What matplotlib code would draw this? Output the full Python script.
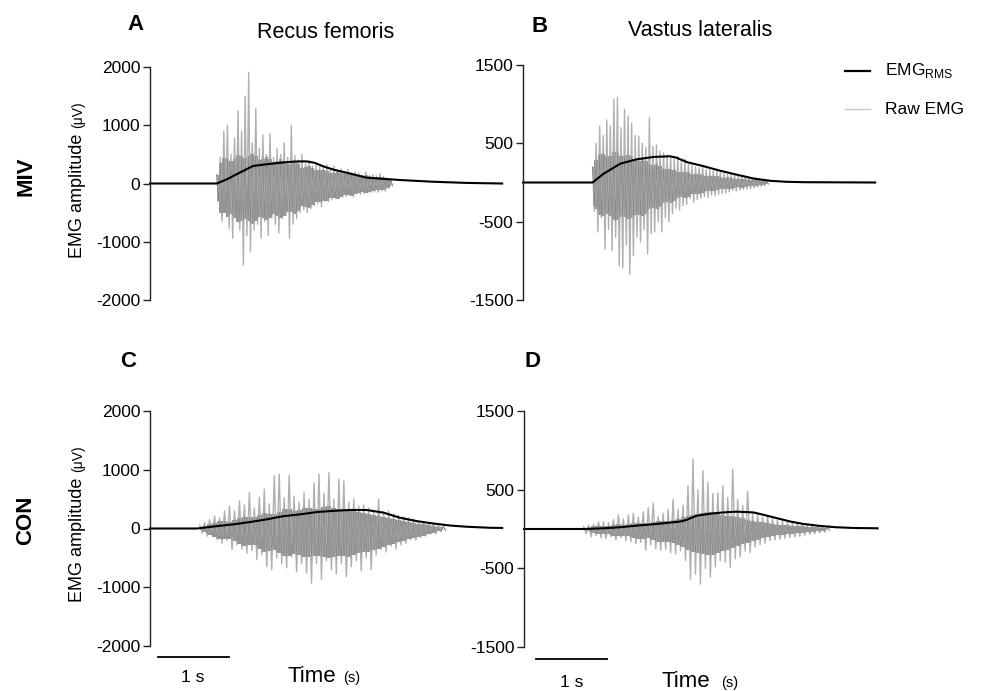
import numpy as np
import matplotlib
matplotlib.use("Agg")
import matplotlib.pyplot as plt
import matplotlib.transforms as mtransforms

plt.rcParams['font.family'] = ['Liberation Sans', 'DejaVu Sans']

# Raw EMG spike extremes (alternating +/-), in uV,
# one value every step seconds starting at the burst onset.
raw_a_start, raw_a_step = 0.94, 0.025
raw_a = [150, -300, 450, -650, 900, -500, 1000, -770,
         500, -940, 780, -600, 1250, -800, 900, -1400,
         1500, -900, 1910, -1170, 700, -800, 1290, -700,
         600, -940, 830, -650, 500, -890, 850, -600,
         450, -700, 600, -850, 500, -600, 700, -550,
         450, -940, 1000, -700, 480, -600, 400, -500,
         500, -450, 350, -500, 400, -430, 300, -380,
         350, -350, 300, -400, 280, -300, 320, -310,
         250, -280, 300, -250, 220, -260, 250, -230,
         200, -220, 240, -200, 180, -230, 200, -180,
         180, -190, 150, -170, 200, -160, 140, -150,
         150, -140, 130, -150, 170, -120, 120, -130,
         90, -80, 60, -40]

raw_b_start, raw_b_step = 0.98, 0.025
raw_b = [200, -370, 500, -630, 720, -450, 600, -850,
         800, -600, 720, -870, 1065, -700, 1090, -1065,
         700, -1090, 935, -800, 850, -1170, 760, -935,
         600, -700, 590, -760, 500, -600, 450, -910,
         830, -650, 460, -630, 480, -500, 400, -630,
         380, -450, 350, -500, 330, -400, 300, -330,
         330, -350, 280, -300, 300, -280, 250, -200,
         220, -250, 200, -220, 190, -200, 200, -180,
         170, -190, 160, -160, 150, -170, 140, -150,
         130, -140, 120, -130, 110, -120, 110, -100,
         100, -110, 90, -100, 90, -90, 80, -85,
         70, -80, 60, -70, 60, -55, 50, -50,
         40, -40, 30, -20]

raw_c_start, raw_c_step = 0.70, 0.035
raw_c = [60, -80, 100, -130, 150, -110, 210, -190,
         180, -250, 300, -200, 380, -360, 300, -280,
         470, -350, 400, -420, 610, -380, 350, -530,
         530, -450, 670, -650, 420, -700, 900, -500,
         925, -600, 520, -670, 900, -480, 550, -740,
         450, -600, 610, -760, 500, -930, 780, -600,
         925, -870, 600, -550, 950, -700, 500, -770,
         840, -600, 810, -820, 450, -650, 500, -550,
         380, -720, 400, -500, 350, -700, 300, -450,
         500, -360, 280, -400, 300, -300, 250, -350,
         220, -280, 200, -250, 180, -190, 160, -200,
         130, -150, 120, -130, 100, -90, 80, -90,
         60, -50, 40, -30]

raw_d_start, raw_d_step = 0.84, 0.035
raw_d = [30, -60, 50, -100, 60, -80, 90, -110,
         95, -120, 80, -100, 120, -140, 180, -110,
         130, -150, 180, -160, 200, -185, 150, -170,
         220, -270, 270, -200, 330, -250, 160, -270,
         200, -260, 250, -300, 375, -315, 250, -280,
         300, -400, 550, -640, 890, -575, 500, -700,
         740, -500, 590, -615, 450, -480, 460, -400,
         550, -420, 400, -490, 760, -380, 375, -350,
         300, -280, 480, -300, 200, -230, 180, -200,
         150, -180, 170, -150, 130, -140, 115, -130,
         100, -120, 90, -110, 80, -100, 73, -90,
         60, -80, 55, -70, 50, -60, 40, -50,
         35, -40, 25, -20]

# Dense (darker) core of the raw trace: time, upper and lower edge
core_a_t = [0.95, 1.05, 1.15, 1.25, 1.35, 1.45, 1.55, 1.65, 1.75, 1.85,
            1.95, 2.05, 2.15, 2.25, 2.35, 2.45, 2.55, 2.65, 2.75, 2.85,
            2.95, 3.05, 3.15, 3.25, 3.35, 3.45, 3.55, 3.65, 3.75]
core_a_hi = [300, 450, 380, 500, 430, 520, 400, 460, 350, 420,
             330, 380, 260, 300, 220, 240, 170, 200, 150, 170,
             120, 140, 100, 110, 70, 50, 30, 15, 0]
core_a_lo = [-450, -600, -520, -680, -600, -700, -560, -640, -520, -600,
             -480, -520, -380, -420, -300, -330, -240, -260, -190, -210,
             -150, -160, -120, -120, -80, -60, -35, -15, 0]

core_b_t = [1.0, 1.1, 1.2, 1.3, 1.4, 1.5, 1.6, 1.7, 1.8, 1.9,
            2.0, 2.1, 2.2, 2.3, 2.4, 2.5, 2.6, 2.7, 2.8, 2.9,
            3.0, 3.1, 3.2, 3.3, 3.4, 3.5, 3.6]
core_b_hi = [250, 380, 320, 400, 330, 360, 270, 300, 220, 240,
             160, 180, 130, 140, 100, 110, 75, 85, 60, 65,
             45, 50, 35, 30, 20, 10, 0]
core_b_lo = [-300, -440, -400, -500, -430, -480, -400, -430, -320, -340,
             -240, -260, -180, -200, -140, -150, -100, -110, -80, -85,
             -60, -65, -45, -40, -30, -15, 0]

core_c_t = [0.70, 0.85, 1.00, 1.15, 1.30, 1.45, 1.60, 1.75, 1.90, 2.05,
            2.20, 2.35, 2.50, 2.65, 2.80, 2.95, 3.10, 3.25, 3.40, 3.55,
            3.70, 3.85, 4.00, 4.15, 4.30]
core_c_hi = [0, 80, 130, 110, 210, 180, 270, 240, 340, 300,
             360, 320, 390, 330, 340, 270, 250, 200, 170, 130,
             100, 70, 40, 20, 0]
core_c_lo = [0, -120, -190, -170, -300, -260, -400, -360, -480, -430,
             -490, -450, -510, -470, -480, -420, -390, -330, -270, -220,
             -160, -120, -75, -40, 0]

core_d_t = [0.84, 1.00, 1.15, 1.30, 1.45, 1.60, 1.75, 1.90, 2.05, 2.20,
            2.35, 2.50, 2.65, 2.80, 2.95, 3.10, 3.25, 3.40, 3.55, 3.70,
            3.85, 4.00, 4.15, 4.35]
core_d_hi = [0, 40, 35, 60, 55, 80, 75, 105, 100, 140,
             180, 200, 220, 180, 160, 130, 100, 80, 55, 45,
             38, 28, 20, 0]
core_d_lo = [0, -65, -60, -95, -90, -125, -120, -165, -160, -215,
             -280, -320, -330, -280, -240, -190, -150, -110, -85, -65,
             -55, -40, -30, 0]

# RMS envelopes (time in s, amplitude in uV)
rms_a_t = [0, 0.94, 1.08, 1.27, 1.45, 1.64, 1.87, 2.05, 2.2, 2.32, 2.45,
           2.58, 2.82, 3.05, 3.29, 3.52, 3.99, 4.46, 4.96]
rms_a_v = [0, 0, 70, 190, 300, 330, 360, 378, 380, 355, 290,
           240, 170, 100, 80, 60, 30, 10, 0]

rms_b_t = [0, 0.98, 1.13, 1.37, 1.60, 1.84, 2.07, 2.16, 2.31, 2.54, 2.77,
           3.01, 3.24, 3.48, 3.71, 3.95, 4.96]
rms_b_v = [0, 0, 109, 240, 296, 326, 335, 317, 260, 209, 152,
           100, 52, 22, 9, 4, 0]

rms_c_t = [0, 0.66, 0.94, 1.17, 1.41, 1.64, 1.88, 2.11, 2.35, 2.58, 2.82,
           3.05, 3.29, 3.52, 3.76, 3.99, 4.23, 4.46, 4.79, 4.96]
rms_c_v = [0, 0, 40, 70, 110, 155, 210, 240, 280, 300, 315,
           315, 270, 183, 125, 85, 50, 30, 12, 10]

rms_d_t = [0, 0.84, 1.12, 1.35, 1.59, 1.82, 2.06, 2.20, 2.29, 2.43, 2.62,
           2.81, 3.00, 3.23, 3.37, 3.56, 3.75, 3.93, 4.17, 4.40, 4.64, 4.98]
rms_d_v = [0, 0, 9, 22, 43, 60, 82, 95, 116, 168, 194,
           211, 220, 211, 181, 138, 95, 65, 39, 22, 13, 9]

ticks_rf = [-2000, -1000, 0, 1000, 2000]
ticks_vl = [-1500, -500, 500, 1500]

W, H = 981, 691
SPIKE_COLOR = '#b0b0b0'
CORE_COLOR = '#939393'


def fx(px):
    """Convert a pixel x position to figure fraction."""
    return px / W


def fy(py):
    """Convert a pixel y position (from top) to figure fraction."""
    return 1 - py / H


def style_axis(ax, ylim, ticks):
    """Keep only the left spine with outward ticks."""
    ax.set_xlim(0, 5)
    ax.set_ylim(*ylim)
    for side in ('top', 'right', 'bottom'):
        ax.spines[side].set_visible(False)
    ax.spines['left'].set_linewidth(1.0)
    ax.spines['left'].set_color('#222222')
    ax.set_xticks([])
    ax.set_yticks(ticks)
    ax.set_yticklabels([str(t) for t in ticks])
    ax.tick_params(axis='y', direction='out', length=5, width=1.0,
                   pad=2, labelsize=12.5, color='#222222')
    ax.patch.set_alpha(0)


def draw_panel(ax, raw, start, step, core, rms_t, rms_v):
    """Draw raw EMG trace (spikes + dense core) and RMS envelope."""
    raw = np.asarray(raw, dtype=float)
    t = start + step * np.arange(len(raw))
    ax.plot(t, raw, color=SPIKE_COLOR, lw=1.0, clip_on=False)

    # dense core: each +/- pair of samples, capped by the core band
    core_t, core_hi, core_lo = core
    pair_t = t[0::2]
    hi = np.minimum(raw[0::2], np.interp(pair_t, core_t, core_hi))
    lo = np.maximum(raw[1::2], np.interp(pair_t, core_t, core_lo))
    ax.fill_between(pair_t, lo, hi, step='mid', color=CORE_COLOR, lw=0)
    inner = np.clip(raw, np.interp(t, core_t, core_lo),
                    np.interp(t, core_t, core_hi))
    ax.plot(t, inner, color='#868686', lw=0.5)

    ax.plot(rms_t, rms_v, color='black', lw=1.5, clip_on=False,
            solid_joinstyle='round')


def scale_bar(ax, t0, y_frac):
    """1 s scale bar below the axis."""
    trans = mtransforms.blended_transform_factory(ax.transData, ax.transAxes)
    ax.plot([t0, t0 + 1], [y_frac, y_frac], color='black', lw=1.3,
            transform=trans, clip_on=False)


def main():
    fig = plt.figure(figsize=(W / 100, H / 100), dpi=100)

    ax_a = fig.add_axes([fx(150), fy(300), fx(355), 233 / H])
    ax_b = fig.add_axes([fx(523), fy(300), fx(355), 235 / H])
    ax_c = fig.add_axes([fx(150), fy(646), fx(355), 235 / H])
    ax_d = fig.add_axes([fx(524), fy(647), fx(355), 236 / H])

    draw_panel(ax_a, raw_a, raw_a_start, raw_a_step,
               (core_a_t, core_a_hi, core_a_lo), rms_a_t, rms_a_v)
    draw_panel(ax_b, raw_b, raw_b_start, raw_b_step,
               (core_b_t, core_b_hi, core_b_lo), rms_b_t, rms_b_v)
    draw_panel(ax_c, raw_c, raw_c_start, raw_c_step,
               (core_c_t, core_c_hi, core_c_lo), rms_c_t, rms_c_v)
    draw_panel(ax_d, raw_d, raw_d_start, raw_d_step,
               (core_d_t, core_d_hi, core_d_lo), rms_d_t, rms_d_v)

    style_axis(ax_a, (-2000, 2000), ticks_rf)
    style_axis(ax_b, (-1500, 1500), ticks_vl)
    style_axis(ax_c, (-2000, 2000), ticks_rf)
    style_axis(ax_d, (-1500, 1500), ticks_vl)

    scale_bar(ax_c, 0.11, -0.047)
    scale_bar(ax_d, 0.17, -0.051)

    # panel letters and titles
    for lab, x, y in [('A', 136, 25), ('B', 540, 27),
                      ('C', 128, 362), ('D', 533, 362)]:
        fig.text(fx(x), fy(y), lab, fontsize=16, fontweight='bold',
                 ha='center', va='center')
    fig.text(fx(326), fy(32), 'Recus femoris', fontsize=15.5,
             ha='center', va='center')
    fig.text(fx(700), fy(31), 'Vastus lateralis', fontsize=15.5,
             ha='center', va='center')

    # row labels
    fig.text(fx(26), fy(176), 'MIV', fontsize=16, fontweight='bold',
             rotation=90, ha='center', va='center')
    fig.text(fx(26), fy(520), 'CON', fontsize=16, fontweight='bold',
             rotation=90, ha='center', va='center')

    # y labels (two sizes)
    for y_bottom in (258, 602):
        fig.text(fx(77), fy(y_bottom), 'EMG amplitude', fontsize=13,
                 rotation=90, ha='center', va='bottom')
        fig.text(fx(78), fy(y_bottom - 130), '(\u03bcV)', fontsize=10,
                 rotation=90, ha='center', va='bottom')

    # time labels
    for x1, x_time, x_s, base in [(193, 287, 343, 682), (572, 662, 721, 687)]:
        fig.text(fx(x1), fy(base), '1 s', fontsize=12.5,
                 ha='center', va='baseline')
        fig.text(fx(x_time), fy(base), 'Time', fontsize=16,
                 ha='left', va='baseline')
        fig.text(fx(x_s), fy(base), '(s)', fontsize=10.5,
                 ha='left', va='baseline')

    # legend
    fig.add_artist(plt.Line2D([fx(845), fx(870)], [fy(71), fy(71)],
                              color='black', lw=1.6))
    fig.add_artist(plt.Line2D([fx(845), fx(870)], [fy(109), fy(109)],
                              color='#c8c8c8', lw=1.0))
    fig.text(fx(885), fy(70), r'EMG$_{\mathregular{RMS}}$', fontsize=12.5,
             ha='left', va='center')
    fig.text(fx(885), fy(109), 'Raw EMG', fontsize=12.5,
             ha='left', va='center')

    fig.savefig('out.png', dpi=100)


if __name__ == '__main__':
    main()
